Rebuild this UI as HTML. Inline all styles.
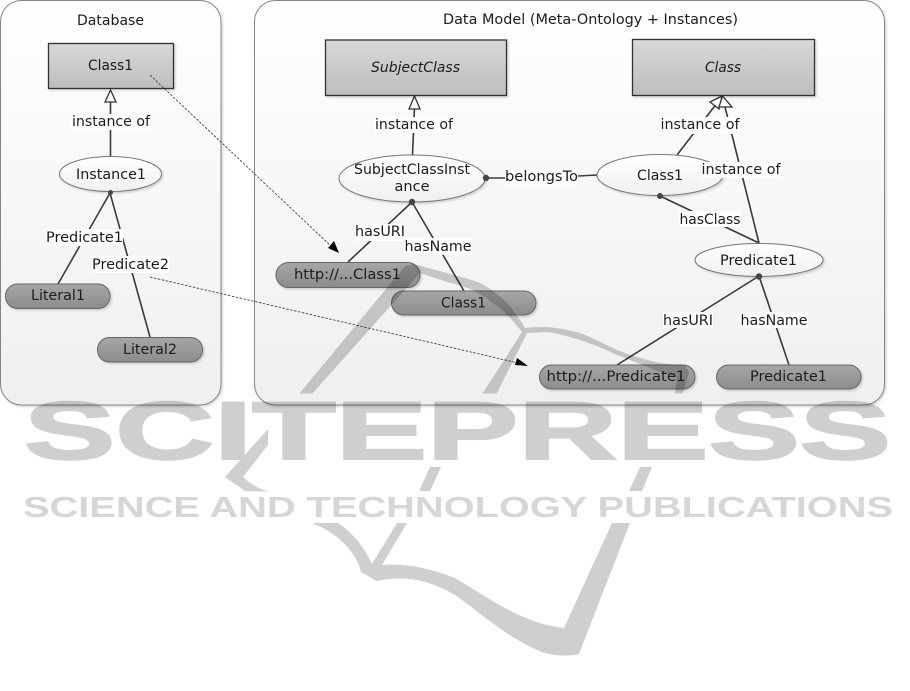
<!DOCTYPE html>
<html><head><meta charset="utf-8"><style>
html,body{margin:0;padding:0;background:#fff;width:910px;height:691px;overflow:hidden}
svg{display:block}
.t{font-family:"DejaVu Sans",sans-serif;font-size:14.5px;fill:#1c1c1c;text-anchor:middle}
.l{stroke:#3a3a3a;stroke-width:1.6;fill:none}
.d{stroke:#333;stroke-width:.8;stroke-dasharray:2.5 1.5;fill:none}
.w{fill:#fff}
.e{fill:url(#ge);stroke:#777;stroke-width:1}
.p{fill:url(#gp);stroke:#666;stroke-width:1}
.r{fill:url(#gr);stroke:#333;stroke-width:1.3}
.tri{fill:#fff;stroke:#333;stroke-width:1.3}
.dot{fill:#444}
</style></head><body>
<svg width="910" height="691" viewBox="0 0 910 691" xmlns="http://www.w3.org/2000/svg">
<defs>
<linearGradient id="gb" x1="0" y1="0" x2="0" y2="1"><stop offset="0" stop-color="#fff"/><stop offset="1" stop-color="#efefef"/></linearGradient>
<linearGradient id="gr" x1="0" y1="0" x2="0" y2="1"><stop offset="0" stop-color="#d8d8d8"/><stop offset="1" stop-color="#bdbdbd"/></linearGradient>
<linearGradient id="gp" x1="0" y1="0" x2="0" y2="1"><stop offset="0" stop-color="#a6a6a6"/><stop offset="1" stop-color="#8c8c8c"/></linearGradient>
<linearGradient id="ge" x1="0" y1="0" x2="0" y2="1"><stop offset="0" stop-color="#fff"/><stop offset="1" stop-color="#f0f0f0"/></linearGradient>
<filter id="s" x="-10%" y="-10%" width="125%" height="125%"><feDropShadow dx="1.5" dy="1.5" stdDeviation="1" flood-color="#000" flood-opacity=".16"/></filter>
<clipPath id="band"><rect x="0" y="0" width="910" height="393.5"/><rect x="0" y="467" width="910" height="24.5"/><rect x="0" y="523" width="910" height="168"/></clipPath>
</defs>

<rect x=".5" y=".5" width="220.5" height="404.5" rx="21" fill="url(#gb)" stroke="#858585" filter="url(#s)"/>
<rect x="254.5" y=".5" width="630" height="404.5" rx="21" fill="url(#gb)" stroke="#858585" filter="url(#s)"/>

<text class="t" x="110.5" y="25" textLength="67" lengthAdjust="spacingAndGlyphs">Database</text>
<text class="t" x="590.5" y="24" textLength="295" lengthAdjust="spacingAndGlyphs">Data Model (Meta-Ontology + Instances)</text>

<!-- connectors left -->
<path class="l" d="M110.5 156V100"/>
<path class="tri" d="M110.5 90L116 102H105Z"/>
<path class="l" d="M110 193L58 284M110 193L150 337"/>
<!-- connectors right -->
<path class="l" d="M412.5 155L414.5 107"/>
<path class="tri" d="M414.5 96L420 109H409Z"/>
<path class="l" d="M412 202L348 262M412 202L464 291"/>
<path class="l" d="M486 178H540L597 175"/>
<path class="l" d="M677 155L717 103M722.5 97L759 243M660 196L759 243"/>
<path class="tri" d="M722 96L719 109L710 102Z"/>
<path class="tri" d="M722.5 96L732 107L719 107Z"/>
<path class="l" d="M759 276L617 365M759 276L789 365"/>

<!-- shapes -->
<rect class="r" x="48.5" y="43.5" width="125" height="45" filter="url(#s)"/>
<rect class="r" x="325.5" y="40" width="181" height="55.5" filter="url(#s)"/>
<rect class="r" x="632.5" y="39.5" width="182" height="56" filter="url(#s)"/>

<ellipse class="e" cx="110.5" cy="174" rx="51" ry="17.5" filter="url(#s)"/>
<ellipse class="e" cx="412" cy="178.5" rx="73" ry="23.5" filter="url(#s)"/>
<ellipse class="e" cx="660" cy="175" rx="63" ry="20.5" filter="url(#s)"/>
<ellipse class="e" cx="759" cy="260" rx="64" ry="16.5" filter="url(#s)"/>

<rect class="p" x="5.5" y="284" width="104.5" height="24.5" rx="12" filter="url(#s)"/>
<rect class="p" x="97.5" y="337.5" width="105" height="24.5" rx="12" filter="url(#s)"/>
<rect class="p" x="276" y="262.5" width="144" height="25" rx="12.5" filter="url(#s)"/>
<rect class="p" x="391.5" y="291" width="144.5" height="24" rx="12" filter="url(#s)"/>
<rect class="p" x="539.5" y="365" width="155.5" height="24" rx="12" filter="url(#s)"/>
<rect class="p" x="716.5" y="365" width="144.5" height="24" rx="12" filter="url(#s)"/>

<circle class="dot" cx="110.5" cy="192.5" r="2.5"/>
<circle class="dot" cx="412" cy="202" r="3.2"/>
<circle class="dot" cx="486" cy="178" r="3.2"/>
<circle class="dot" cx="660" cy="196" r="3"/>
<circle class="dot" cx="759" cy="276.5" r="3.2"/>

<!-- label backgrounds -->
<rect class="w" x="71" y="114" width="80" height="16"/>
<rect class="w" x="46" y="229" width="77" height="17"/>
<rect class="w" x="92" y="256" width="77" height="17"/>
<rect class="w" x="374" y="117" width="80" height="16"/>
<rect class="w" x="355" y="224" width="50" height="17"/>
<rect class="w" x="404" y="238" width="68" height="17"/>
<rect class="w" x="505" y="169" width="73" height="16"/>
<rect class="w" x="660" y="117" width="80" height="17"/>
<rect class="w" x="701" y="162" width="80" height="16"/>
<rect class="w" x="679" y="211" width="62" height="16"/>
<rect class="w" x="663" y="312" width="50" height="16"/>
<rect class="w" x="740" y="312" width="68" height="16"/>

<!-- text -->
<text class="t" x="110.5" y="70" textLength="45" lengthAdjust="spacingAndGlyphs">Class1</text>
<text class="t" x="415.5" y="72" textLength="89" lengthAdjust="spacingAndGlyphs" style="font-style:italic">SubjectClass</text>
<text class="t" x="723" y="72" textLength="36" lengthAdjust="spacingAndGlyphs" style="font-style:italic">Class</text>
<text class="t" x="111" y="179" textLength="70" lengthAdjust="spacingAndGlyphs">Instance1</text>
<text class="t" x="412" y="174" textLength="116" lengthAdjust="spacingAndGlyphs">SubjectClassInst</text>
<text class="t" x="412" y="191" textLength="35" lengthAdjust="spacingAndGlyphs">ance</text>
<text class="t" x="660" y="180" textLength="46" lengthAdjust="spacingAndGlyphs">Class1</text>
<text class="t" x="758.5" y="265" textLength="77" lengthAdjust="spacingAndGlyphs">Predicate1</text>
<text class="t" x="58" y="300" textLength="54" lengthAdjust="spacingAndGlyphs">Literal1</text>
<text class="t" x="150" y="354" textLength="54" lengthAdjust="spacingAndGlyphs">Literal2</text>
<text class="t" x="347.5" y="279" textLength="107" lengthAdjust="spacingAndGlyphs">http://...Class1</text>
<text class="t" x="463.5" y="307.5" textLength="45" lengthAdjust="spacingAndGlyphs">Class1</text>
<text class="t" x="616" y="381" textLength="139" lengthAdjust="spacingAndGlyphs">http://...Predicate1</text>
<text class="t" x="788.5" y="381" textLength="77" lengthAdjust="spacingAndGlyphs">Predicate1</text>

<text class="t" x="111" y="126" textLength="78" lengthAdjust="spacingAndGlyphs">instance of</text>
<text class="t" x="84.5" y="242" textLength="77" lengthAdjust="spacingAndGlyphs">Predicate1</text>
<text class="t" x="130.5" y="269" textLength="77" lengthAdjust="spacingAndGlyphs">Predicate2</text>
<text class="t" x="414" y="129" textLength="78" lengthAdjust="spacingAndGlyphs">instance of</text>
<text class="t" x="380" y="236" textLength="50" lengthAdjust="spacingAndGlyphs">hasURI</text>
<text class="t" x="438" y="251" textLength="67" lengthAdjust="spacingAndGlyphs">hasName</text>
<text class="t" x="541.5" y="181" textLength="73" lengthAdjust="spacingAndGlyphs">belongsTo</text>
<text class="t" x="700" y="129" textLength="79" lengthAdjust="spacingAndGlyphs">instance of</text>
<text class="t" x="741" y="174" textLength="79" lengthAdjust="spacingAndGlyphs">instance of</text>
<text class="t" x="710" y="224" textLength="61" lengthAdjust="spacingAndGlyphs">hasClass</text>
<text class="t" x="688" y="325" textLength="50" lengthAdjust="spacingAndGlyphs">hasURI</text>
<text class="t" x="774" y="325" textLength="67" lengthAdjust="spacingAndGlyphs">hasName</text>

<!-- dashed -->
<path class="d" d="M150 75L332 247"/>
<path d="M339 253L328 248L334 241Z" fill="#000"/>
<path class="d" d="M150 277L518 363"/>
<path d="M528 366L515 365L517 358Z" fill="#000"/>

<!-- watermark -->
<g style="mix-blend-mode:multiply" fill="#cfcfcf">
<g clip-path="url(#band)">
<path d="M299 394L405 266L413 264C425 267 436 270 447 273C458 276 469 279 480 283C490 288 499 295 507 303C514 311 520 319 525 328C532 327 540 327 547 327C558 328 569 330 580 333C594 338 606 345 617 350C632 356 647 360 660 363C668 364 677 365 685 365L689 372L683 393L652 467L642 491L629 491L640 467L675 393L677 378C668 375 659 372 650 368C640 364 628 359 617 355C605 349 592 344 580 340C569 337 558 333 547 332L527 333L497 393L441 467L430 491L419 491L430 467L483 393L522 332C515 323 508 315 500 308C491 302 482 295 473 290C464 287 456 284 447 282C438 279 429 276 420 273L312 394Z"/>
<path d="M312 523L338 523C352 532 365 548 372 564L397 523L407 523L382 565C405 563 430 568 455 578C472 588 490 600 505 608C525 619 545 626 564 628L612 523L630 523L579 654C570 656 558 657 542 652C525 645 510 636 498 627C482 616 468 604 455 595C430 580 405 575 377 581L361 572C357 552 336 532 312 523Z"/>
</g>
<path d="M268 429L225 477L245 491L268 491.5C258 488 250 484 243 477L268 445Z"/>
<path d="M455 445L447 457H455Z"/>
<text x="24" y="459" font-family="Liberation Sans, sans-serif" font-weight="700" font-size="82" stroke="#cfcfcf" stroke-width="2" textLength="867" lengthAdjust="spacingAndGlyphs">SCITEPRESS</text>
<text x="23" y="517" font-family="Liberation Sans, sans-serif" font-weight="700" font-size="29" fill="#d6d6d6" textLength="870" lengthAdjust="spacingAndGlyphs">SCIENCE AND TECHNOLOGY PUBLICATIONS</text>
</g>
</svg>
</body></html>
